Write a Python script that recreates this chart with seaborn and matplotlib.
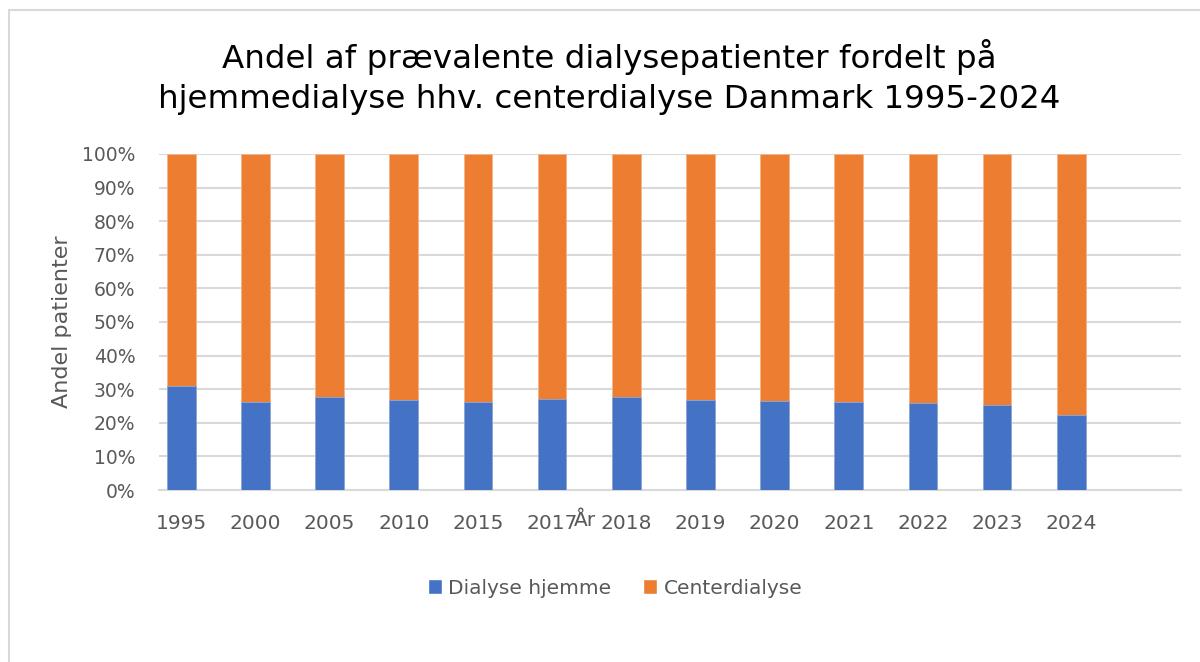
import matplotlib
matplotlib.use("Agg")
import matplotlib.pyplot as plt
from matplotlib.patches import Patch, Rectangle
import pandas as pd
import seaborn as sns

# Data (share of patients, %)
years = ['1995', '2000', '2005', '2010', '2015', '2017', '2018',
         '2019', '2020', '2021', '2022', '2023', '2024']
hjemme = [31.0, 26.3, 27.8, 26.8, 26.2, 27.0, 27.7,
          26.9, 26.6, 26.3, 26.0, 25.2, 22.4]
center = [100 - v for v in hjemme]

title = "Andel af prævalente dialysepatienter fordelt på\nhjemmedialyse hhv. centerdialyse Danmark 1995-2024"
blue = '#4472C4'
orange = '#ED7D31'
grey_txt = '#595959'
grid_col = '#d9d9d9'

sns.set_theme(style="white")
plt.rcParams['font.family'] = ['DejaVu Sans']

df = pd.DataFrame({'aar': years, 'hjemme': hjemme, 'center': center})
df['total'] = df['hjemme'] + df['center']

fig = plt.figure(figsize=(12, 6.62), dpi=100)
ax = fig.add_axes([0.1325, 0.2598, 0.8517, 0.5076])

# stacked bars: total (orange) underneath, home dialysis (blue) on top
sns.barplot(data=df, x='aar', y='total', color=orange, saturation=1, width=0.385,
            edgecolor='#f5b48a', linewidth=0.6, ax=ax, zorder=2)
sns.barplot(data=df, x='aar', y='hjemme', color=blue, saturation=1, width=0.385,
            edgecolor='#8eaadb', linewidth=0.6, ax=ax, zorder=3)

ax.set_ylim(0, 100)
ax.set_xlim(-0.30, 13.48)
ax.set_yticks(range(0, 101, 10))
ax.set_yticklabels([f'{v}%' for v in range(0, 101, 10)])
ax.yaxis.grid(True, color=grid_col, linewidth=1.5, zorder=0)
ax.set_axisbelow(True)
for s in ['top', 'right', 'left']:
    ax.spines[s].set_visible(False)
ax.spines['bottom'].set_color(grid_col)
ax.spines['bottom'].set_linewidth(1.5)
ax.tick_params(axis='y', length=0, pad=17, labelsize=13.5, labelcolor=grey_txt)
ax.tick_params(axis='x', length=0, pad=17, labelsize=14.5, labelcolor=grey_txt)
ax.set_xlabel('')
ax.set_ylabel('')

fig.text(0.508, 1 - 77 / 662, title, ha='center', va='center', fontsize=23.4,
         color='black', linespacing=1.37)
fig.text(62 / 1200, 1 - 322 / 662, 'Andel patienter', rotation=90,
         ha='center', va='center', fontsize=16, color=grey_txt)
fig.text(585 / 1200, 1 - 521 / 662, 'År', ha='center', va='center',
         fontsize=14.5, color=grey_txt)

handles = [Patch(facecolor=blue, label='Dialyse hjemme'),
           Patch(facecolor=orange, label='Centerdialyse')]
fig.legend(handles=handles, loc='center', bbox_to_anchor=(615 / 1200, 1 - 588 / 662),
           ncol=2, frameon=False, fontsize=14.5, handlelength=0.7, handleheight=0.7,
           handletextpad=0.3, columnspacing=1.6, labelcolor=grey_txt)

# light chart-area frame like the Excel export
fig.add_artist(Rectangle((9 / 1200, -0.1), 1.1, 1.1 - 10 / 662 + 0.0001,
                         transform=fig.transFigure, fill=False,
                         edgecolor=grid_col, linewidth=1.5))

fig.savefig('out.png', dpi=100)
